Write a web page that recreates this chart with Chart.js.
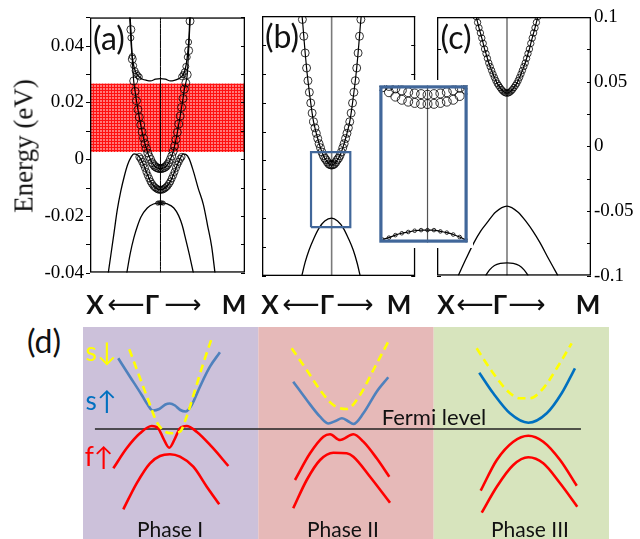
<!DOCTYPE html>
<html>
<head>
<meta charset="utf-8">
<script src="https://cdn.jsdelivr.net/npm/chart.js@4.4.1/dist/chart.umd.min.js"></script>
<style>
body { margin: 0; background: #fff; width: 640px; height: 539px; position: relative; overflow: hidden; font-family: Lato, sans-serif; }
canvas { position: absolute; }
.t { position: absolute; white-space: nowrap; transform: translate(-50%, -50%); line-height: 1; color: #111; }
.p { font-size: 32px; }
.k { font-size: 26px; font-weight: bold; }
.ar { font-family: "DejaVu Sans"; font-size: 26px; }
.ph { font-size: 21px; }
.sp { font-size: 26px; }
</style>
</head>
<body>
<canvas id="ca" width="250" height="290" style="left:0;top:0"></canvas>
<canvas id="cb" width="170" height="290" style="left:250px;top:0"></canvas>
<canvas id="cc" width="215" height="290" style="left:425px;top:0"></canvas>
<canvas id="ci" width="99" height="168" style="left:374px;top:80px"></canvas>
<canvas id="cd" width="526" height="212" style="left:83px;top:327px"></canvas>

<div class="t p" style="left:109px;top:38px">(a)</div>
<div class="t p" style="left:282px;top:36px">(b)</div>
<div class="t p" style="left:456px;top:37px">(c)</div>
<div class="t p" style="left:44px;top:341px">(d)</div>
<div class="t" style="left:24px;top:146px;font-family:'Liberation Serif';font-size:27px;transform:translate(-50%,-50%) rotate(-90deg)">Energy (eV)</div>

<div class="t k" style="left:95px;top:304px">X</div>
<div class="t ar" style="left:126px;top:304px">⟵</div>
<div class="t k" style="left:152px;top:304px">Γ</div>
<div class="t ar" style="left:183px;top:304px">⟶</div>
<div class="t k" style="left:234px;top:304px">M</div>

<div class="t k" style="left:270px;top:304px">X</div>
<div class="t ar" style="left:301px;top:304px">⟵</div>
<div class="t k" style="left:327px;top:304px">Γ</div>
<div class="t ar" style="left:355px;top:304px">⟶</div>
<div class="t k" style="left:399px;top:304px">M</div>

<div class="t k" style="left:446px;top:304px">X</div>
<div class="t ar" style="left:475px;top:304px">⟵</div>
<div class="t k" style="left:500px;top:304px">Γ</div>
<div class="t ar" style="left:527px;top:304px">⟶</div>
<div class="t k" style="left:588px;top:304px">M</div>

<div class="t sp" style="left:101px;top:351px;color:#ffff00">s↓</div>
<div class="t sp" style="left:101px;top:400px;color:#0070c0">s↑</div>
<div class="t sp" style="left:99px;top:456px;color:#ff0000">f↑</div>
<div class="t" style="left:434px;top:417px;font-size:22px">Fermi level</div>
<div class="t ph" style="left:170px;top:528px">Phase I</div>
<div class="t ph" style="left:343px;top:528px">Phase II</div>
<div class="t ph" style="left:530px;top:528px">Phase III</div>

<script>
// k-points of the calculation (X <- G -> M), used by the circle-marked bands
const kGrid = [-0.44,-0.42,-0.40,-0.38,-0.36,-0.34,-0.32,-0.30,-0.28,-0.26,-0.24,-0.22,-0.20,-0.18,-0.16,-0.14,-0.12,-0.10,-0.08,-0.06,-0.04,-0.02,0,0.02,0.04,0.06,0.08,0.10,0.12,0.14,0.16,0.18,0.20,0.22,0.24,0.26,0.28,0.30,0.32,0.34,0.36,0.38,0.40,0.42,0.44];

// ---- (a) energies in eV
const aCondE = [0.0550,0.0457,0.0353,0.0276,0.0239,0.0206,0.0175,0.0148,0.0121,0.0096,0.0074,0.0055,0.0038,0.0022,0.0009,-0.0001,-0.0012,-0.0019,-0.0025,-0.0029,-0.0031,-0.0033,-0.0033,-0.0033,-0.0031,-0.0029,-0.0025,-0.0019,-0.0012,-0.0001,0.0011,0.0027,0.0046,0.0069,0.0095,0.0124,0.0152,0.0183,0.0214,0.0247,0.0269,0.0298,0.0383,0.0487,0.0580];
const aUpK = [-0.437,-0.425,-0.414,-0.397,-0.373,-0.338,-0.296,-0.254,-0.197,-0.141,-0.070,0,0.070,0.141,0.197,0.254,0.303,0.338,0.366,0.387,0.406,0.417];
const aUpE = [0.0503,0.0451,0.0399,0.0355,0.0323,0.0301,0.0289,0.0282,0.0278,0.0276,0.0282,0.0284,0.0282,0.0276,0.0278,0.0283,0.0292,0.0306,0.0334,0.0375,0.0434,0.0503];
const aUpRingK = [-0.44,-0.42,-0.40,-0.38,-0.36,-0.34,-0.32,-0.30,0.30,0.32,0.34,0.36,0.38,0.40,0.42];
const aUpRingE = [0.0520,0.0428,0.0362,0.0330,0.0312,0.0302,0.0295,0.0290,0.0291,0.0298,0.0308,0.0327,0.0360,0.0413,0.0525];
const aMidK = [-0.742,-0.704,-0.658,-0.613,-0.563,-0.514,-0.465,-0.415,-0.376,-0.338,-0.296,-0.246,-0.190,-0.134,-0.070,0,0.070,0.134,0.190,0.246,0.289,0.320,0.359,0.408,0.469,0.535,0.610,0.669,0.728,0.775];
const aMidE = [-0.0403,-0.0338,-0.0258,-0.0179,-0.0113,-0.0061,-0.0019,0.0008,0.0019,0.0017,0.0007,-0.0016,-0.0051,-0.0082,-0.0101,-0.0108,-0.0101,-0.0082,-0.0051,-0.0016,0.0007,0.0019,0.0017,0.0001,-0.0044,-0.0102,-0.0161,-0.0234,-0.0310,-0.0403];
const aMidRingK = [-0.30,-0.28,-0.26,-0.24,-0.22,-0.20,-0.18,-0.16,-0.14,-0.12,-0.10,-0.08,-0.06,-0.04,-0.02,0,0.02,0.04,0.06,0.08,0.10,0.12,0.14,0.16,0.18,0.20,0.22,0.24,0.26,0.28,0.30];
const aMidRingE = [0.0008,0.0001,-0.0009,-0.0019,-0.0031,-0.0045,-0.0057,-0.0068,-0.0079,-0.0087,-0.0094,-0.0099,-0.0103,-0.0106,-0.0108,-0.0108,-0.0108,-0.0106,-0.0103,-0.0099,-0.0094,-0.0087,-0.0079,-0.0068,-0.0057,-0.0045,-0.0031,-0.0019,-0.0009,0.0001,0.0008];
const aLowK = [-0.479,-0.430,-0.376,-0.324,-0.275,-0.187,-0.099,0,0.099,0.190,0.258,0.310,0.352,0.408,0.469];
const aLowE = [-0.0403,-0.0334,-0.0276,-0.0234,-0.0203,-0.0172,-0.0158,-0.0154,-0.0158,-0.0172,-0.0199,-0.0234,-0.0276,-0.0334,-0.0403];
const aLowRingK = [-0.04,-0.02,0,0.02,0.04];
const aLowRingE = [-0.0155,-0.0154,-0.0154,-0.0154,-0.0155];
const aHatchE = [0.0025, 0.0267];
const aRange = [-0.04, 0.05];
const aTicks = [-0.04, -0.02, 0, 0.02, 0.04];

// ---- (b)
const bCondE = [0.0530,0.0488,0.0430,0.0372,0.0320,0.0276,0.0236,0.0199,0.0164,0.0134,0.0113,0.0094,0.0076,0.0058,0.0044,0.0029,0.0017,0.0008,0.0002,-0.0006,-0.0012,-0.0015,-0.0016,-0.0015,-0.0012,-0.0006,0.0002,0.0008,0.0017,0.0029,0.0044,0.0058,0.0076,0.0094,0.0113,0.0134,0.0164,0.0199,0.0236,0.0276,0.0320,0.0372,0.0430,0.0488,0.0530];
const bValK = [-0.432,-0.380,-0.324,-0.254,-0.183,-0.099,0,0.085,0.169,0.239,0.310,0.366,0.413];
const bValE = [-0.0403,-0.0352,-0.0310,-0.0269,-0.0235,-0.0210,-0.0200,-0.0210,-0.0235,-0.0269,-0.0310,-0.0355,-0.0403];
const bBoxK = [-0.296, 0.268];
const bBoxE = [-0.0231, 0.0029];

// ---- inset (zoom of the box in b)
const iRangeK = [-0.3, 0.25];
const iRangeE = [-0.0225, 0.0025];
const iGrid = [-0.28,-0.24,-0.20,-0.16,-0.12,-0.08,-0.04,0,0.04,0.08,0.12,0.16,0.20,0.24];
const iCond1E = [0.0022,0.0014,0.0007,0.0002,-0.0001,-0.0003,-0.00045,-0.00048,-0.00045,-0.0003,-0.0001,0.0002,0.0008,0.0018];
const iCond2E = [0.0028,0.0024,0.0020,0.0017,0.0014,0.0012,0.0011,0.0010,0.0011,0.0012,0.0014,0.0017,0.0021,0.0026];
const iValE = [-0.0220,-0.0217,-0.0213,-0.0210,-0.0208,-0.0206,-0.0205,-0.0205,-0.0205,-0.0207,-0.0209,-0.0212,-0.0216,-0.0221];

// ---- (c)
const cCondE = [0.1003,0.0958,0.0916,0.0877,0.0837,0.0796,0.0752,0.0717,0.0680,0.0644,0.0616,0.0587,0.0559,0.0533,0.0509,0.0487,0.0471,0.0455,0.0440,0.0428,0.0419,0.0413,0.0411,0.0413,0.0419,0.0428,0.0440,0.0455,0.0471,0.0487,0.0509,0.0533,0.0559,0.0587,0.0616,0.0644,0.0680,0.0717,0.0752,0.0796,0.0837,0.0877,0.0916,0.0958,0.1003];
const cVal1K = [-0.696,-0.587,-0.470,-0.376,-0.282,-0.165,0,0.159,0.282,0.370,0.469,0.596,0.727];
const cVal1E = [-0.1,-0.0872,-0.0743,-0.0656,-0.0589,-0.0510,-0.0462,-0.0510,-0.0589,-0.0656,-0.0743,-0.0872,-0.1];
const cVal2K = [-0.306,-0.249,-0.179,-0.094,0,0.089,0.173,0.244,0.304];
const cVal2E = [-0.1,-0.0956,-0.0922,-0.0906,-0.0902,-0.0906,-0.0922,-0.0956,-0.1];
const cRange = [-0.1, 0.1];
const cTicks = [-0.1, -0.05, 0, 0.05, 0.1];

// ---- (d) schematic, arbitrary units, Fermi level at 0
const phaseEdges = [0, 10, 20, 30];
const d1YelX = [2.64,3.15,3.72,4.20,4.68,5.06,5.53,5.91,6.39,6.86,7.34];
const d1YelY = [7.97,5.57,2.90,0.73,-0.27,-0.43,-0.27,1.23,3.90,6.57,9.07];
const d1BluX = [2.01,2.68,3.35,3.70,3.98,4.35,4.70,4.95,5.25,5.55,5.85,6.20,6.67,7.24,7.81];
const d1BluY = [7.07,5.23,3.40,2.40,1.85,2.00,2.45,2.55,2.35,1.90,1.75,2.40,4.23,6.23,7.67];
const d1RedUX = [1.73,2.49,3.25,3.92,4.29,4.58,4.92,5.25,5.53,5.91,6.48,7.34,8.29];
const d1RedUY = [-3.93,-1.93,-0.43,0.30,0.07,-0.93,-1.87,-0.93,0.07,0.30,-0.27,-1.77,-3.70];
const d1RedLX = [2.30,3.06,3.82,4.39,4.96,5.53,6.29,7.06,7.77];
const d1RedLY = [-8.03,-5.43,-3.43,-2.70,-2.53,-2.77,-3.77,-5.77,-7.53];
const d2YelX = [11.90,12.76,13.52,14.28,15.04,15.80,16.56,17.41];
const d2YelY = [8.07,5.90,3.90,2.40,2.00,3.40,5.90,8.73];
const d2BluX = [11.99,12.76,13.52,14.00,14.40,14.77,15.10,15.42,15.99,16.75,17.41];
const d2BluY = [4.73,2.90,1.23,0.55,0.80,1.07,0.80,0.50,1.57,3.73,5.17];
const d2RedUX = [12.09,12.95,13.71,14.09,14.66,15.42,15.99,16.75,17.47];
const d2RedUY = [-5.10,-2.43,-0.77,-0.53,-1.10,-0.53,-1.27,-2.93,-4.77];
const d2RedLX = [11.99,12.76,13.52,14.28,15.04,15.42,16.37,17.51];
const d2RedLY = [-7.93,-5.10,-3.10,-2.37,-2.43,-2.77,-4.77,-7.37];
const d3YelX = [22.45,23.40,24.26,24.92,25.49,26.25,27.02,27.87];
const d3YelY = [8.07,5.57,3.73,3.07,3.07,4.07,6.07,8.57];
const d3BluX = [22.60,23.40,24.35,25.40,26.45,27.30,28.06];
const d3BluY = [5.63,3.57,1.57,0.63,1.57,3.57,6.07];
const d3RedUX = [22.68,23.60,24.54,25.40,26.25,27.21,28.16];
const d3RedUY = [-6.17,-3.10,-1.27,-0.67,-1.27,-3.10,-5.67];
const d3RedLX = [22.74,23.60,24.54,25.40,26.25,27.21,28.19];
const d3RedLY = [-8.37,-5.77,-3.60,-2.83,-3.43,-5.43,-7.77];
const fermiX = [0.68, 28.4];
const fermiY = [0, 0];

Chart.defaults.animation = false;
Chart.defaults.plugins.legend.display = false;
Chart.defaults.plugins.tooltip.enabled = false;

const pts = (xs, ys) => xs.map((x, i) => ({x: x, y: ys[i]}));

function curve(data, color, width, extra) {
  return Object.assign({data: data, showLine: true, borderColor: color, borderWidth: width,
    pointRadius: 0, cubicInterpolationMode: 'monotone'}, extra || {});
}
function rings(data, r) {
  return {data: data, showLine: false, pointRadius: r, pointStyle: 'circle',
    pointBorderColor: '#000', pointBackgroundColor: 'rgba(0,0,0,0)', pointBorderWidth: 0.8};
}
function rect(ks, es) {
  return [{x: ks[0], y: es[0]}, {x: ks[1], y: es[0]}, {x: ks[1], y: es[1]}, {x: ks[0], y: es[1]}, {x: ks[0], y: es[0]}];
}

// frame + tick marks
const frame = {
  id: 'frame',
  beforeDraw(c, a, o) {
    if (!o.bg) return;
    c.ctx.fillStyle = o.bg;
    c.ctx.fillRect(0, 0, c.width, c.height);
  },
  afterDatasetsDraw(c, a, o) {
    const ctx = c.ctx, r = c.chartArea, y = c.scales.y;
    ctx.save();
    ctx.strokeStyle = o.color || '#000';
    ctx.lineWidth = 1;
    if (o.step) {
      const n = Math.round((y.max - y.min) / o.step);
      ctx.beginPath();
      for (let i = 0; i <= n; i++) {
        const p = Math.round(y.getPixelForValue(y.min + i * o.step)) + 0.5;
        ctx.moveTo(o.leftOut ? r.left - o.len : r.left, p);
        ctx.lineTo(o.leftOut ? r.left : r.left + o.len, p);
        ctx.moveTo(r.right - o.len, p);
        ctx.lineTo(r.right, p);
      }
      ctx.stroke();
    }
    const w = o.width || 1.3;
    ctx.lineWidth = w;
    ctx.strokeRect(r.left + w / 2, r.top + w / 2, r.right - r.left - w, r.bottom - r.top - w);
    ctx.restore();
  }
};

function bandChart(id, range, datasets, pad, frameOpts, yAxis, xRange) {
  const xr = xRange || [-1, 1.2];
  const y = Object.assign({min: range[0], max: range[1], display: false}, yAxis || {});
  return new Chart(document.getElementById(id), {
    type: 'scatter',
    data: {datasets: datasets},
    options: {
      responsive: false,
      layout: {padding: pad},
      plugins: {frame: frameOpts},
      scales: {
        x: {type: 'linear', min: xr[0], max: xr[1], display: false},
        y: y
      }
    },
    plugins: [frame]
  });
}

function tickAxis(pos, width, ticks, padding) {
  return {
    display: true, position: pos,
    afterFit: s => { s.width = width; },
    afterBuildTicks: s => { s.ticks = ticks.map(v => ({value: v})); },
    ticks: {font: {family: 'Liberation Serif', size: 19}, color: '#000', padding: padding, autoSkip: false, callback: v => String(v)},
    grid: {display: false, drawTicks: false},
    border: {display: false}
  };
}

// hatch pattern for the red band in (a)
const pc = document.createElement('canvas');
pc.width = 3; pc.height = 3;
const px = pc.getContext('2d');
px.fillStyle = '#ff7a7a'; px.fillRect(0, 0, 3, 3);
px.fillStyle = '#ff1010'; px.fillRect(0, 0, 3, 1); px.fillRect(0, 0, 1, 3);
const hatch = document.getElementById('ca').getContext('2d').createPattern(pc, 'repeat');

// (a)
bandChart('ca', aRange, [
  rings(pts(kGrid, aCondE), 4),
  rings(pts(aMidRingK, aMidRingE), 3.5),
  rings(pts(aUpRingK, aUpRingE), 3),
  rings(pts(aLowRingK, aLowRingE), 2),
  curve(pts(kGrid, aCondE), '#000', 1.2),
  curve(pts(aUpK, aUpE), '#000', 1.3),
  curve(pts(aMidK, aMidE), '#000', 1.3),
  curve(pts(aLowK, aLowE), '#000', 1.3),
  curve(pts([0, 0], aRange), '#000', 1),
  curve(pts([-1, 1.2], [aHatchE[1], aHatchE[1]]), 'rgba(0,0,0,0)', 0, {fill: {value: aHatchE[0]}, backgroundColor: hatch})
], {left: 0, right: 5, top: 16, bottom: 14}, {step: 0.01, len: 4, leftOut: true}, tickAxis('left', 90, aTicks, 6));

// (b)
bandChart('cb', aRange, [
  curve(rect(bBoxK, bBoxE), '#41679a', 2.2, {cubicInterpolationMode: 'default', tension: 0}),
  rings(pts(kGrid, bCondE), 4),
  curve(pts(kGrid, bCondE), '#000', 1.2),
  curve(pts(bValK, bValE), '#000', 1.3),
  curve(pts([0, 0], aRange), '#7a7a7a', 1.6)
], {left: 12, right: 4, top: 16, bottom: 14}, {step: 0.01, len: 4});

// (c)
bandChart('cc', cRange, [
  rings(pts(kGrid, cCondE), 3.2),
  curve(pts(kGrid, cCondE), '#000', 1.2),
  curve(pts(cVal1K, cVal1E), '#000', 1.3),
  curve(pts(cVal2K, cVal2E), '#000', 1.3),
  curve(pts([0, 0], cRange), '#7a7a7a', 1.6)
], {left: 12, right: 0, top: 17, bottom: 13}, {step: 0.025, len: 4}, tickAxis('right', 49, cTicks, 3));

// inset
bandChart('ci', iRangeE, [
  rings(pts(iGrid, iCond1E), 4.5),
  rings(pts(iGrid, iCond2E), 4.5),
  rings(pts(iGrid, iValE), 1.8),
  curve(pts(iGrid, iValE), '#000', 1.2),
  curve(pts([0, 0], iRangeE), '#555', 1.2)
], 0, {bg: '#fff', color: '#41679a', width: 3.2}, null, iRangeK);

// (d) schematic
const phases = {
  id: 'phases',
  beforeDatasetsDraw(c, a, o) {
    const ctx = c.ctx, r = c.chartArea, x = c.scales.x;
    for (let i = 0; i < phaseEdges.length - 1; i++) {
      const x0 = x.getPixelForValue(phaseEdges[i]), x1 = x.getPixelForValue(phaseEdges[i + 1]);
      ctx.fillStyle = o.colors[i];
      ctx.fillRect(x0, r.top, x1 - x0, r.bottom - r.top);
    }
  }
};
const YEL = '#ffff00', RED = '#ff0000', BLU = '#4f81bd', BLU3 = '#0070c0';
const dash = {borderDash: [8, 5]};
new Chart(document.getElementById('cd'), {
  type: 'scatter',
  data: {datasets: [
    curve(pts(d1YelX, d1YelY), YEL, 2.6, dash),
    curve(pts(d2YelX, d2YelY), YEL, 2.6, dash),
    curve(pts(d3YelX, d3YelY), YEL, 2.6, dash),
    curve(pts(d1BluX, d1BluY), BLU, 2.6),
    curve(pts(d2BluX, d2BluY), BLU, 2.6),
    curve(pts(d3BluX, d3BluY), BLU3, 2.6),
    curve(pts(d1RedUX, d1RedUY), RED, 2.6),
    curve(pts(d1RedLX, d1RedLY), RED, 2.6),
    curve(pts(d2RedUX, d2RedUY), RED, 2.6),
    curve(pts(d2RedLX, d2RedLY), RED, 2.6),
    curve(pts(d3RedUX, d3RedUY), RED, 2.6),
    curve(pts(d3RedLX, d3RedLY), RED, 2.6),
    curve(pts(fermiX, fermiY), '#222', 1.6)
  ]},
  options: {
    responsive: false,
    layout: {padding: 0},
    plugins: {phases: {colors: ['#ccc1da', '#e6b9b8', '#d7e4bd']}},
    scales: {
      x: {type: 'linear', min: 0, max: 30, display: false},
      y: {min: -11, max: 10.2, display: false}
    }
  },
  plugins: [phases]
});
</script>
</body>
</html>
